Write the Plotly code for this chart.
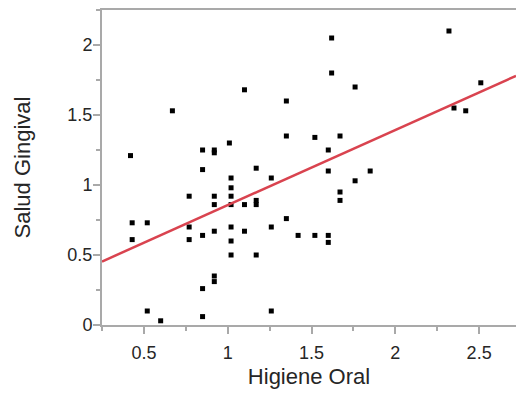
import plotly.graph_objects as go

# Data
higiene_oral = [0.42, 0.67, 0.85, 0.92, 0.92, 1.01, 0.85, 1.62, 1.62, 1.10,
                1.76, 1.35, 1.35, 1.52, 1.67, 1.60, 1.17, 1.60, 1.85, 2.32,
                2.51, 2.35, 2.42, 1.02, 1.02, 1.02, 1.02, 0.77, 0.92, 0.92,
                0.43, 0.52, 0.77, 0.43, 0.77, 0.85, 0.92, 1.02, 1.02, 1.02,
                0.92, 0.92, 0.85, 0.52, 0.60, 0.85, 1.10, 1.17, 1.17, 1.26,
                1.10, 1.26, 1.35, 1.42, 1.52, 1.60, 1.60, 1.17, 1.26, 1.67,
                1.67, 1.76]
salud_gingival = [1.21, 1.53, 1.25, 1.25, 1.23, 1.30, 1.11, 2.05, 1.80, 1.68,
                  1.70, 1.60, 1.35, 1.34, 1.35, 1.25, 1.12, 1.10, 1.10, 2.10,
                  1.73, 1.55, 1.53, 1.05, 0.98, 0.92, 0.86, 0.92, 0.92, 0.86,
                  0.73, 0.73, 0.70, 0.61, 0.61, 0.64, 0.67, 0.70, 0.60, 0.50,
                  0.35, 0.31, 0.26, 0.10, 0.03, 0.06, 0.86, 0.89, 0.86, 1.05,
                  0.67, 0.70, 0.76, 0.64, 0.64, 0.64, 0.59, 0.50, 0.10, 0.95,
                  0.89, 1.03]

# Fitted line
fit_intercept = 0.319
fit_slope = 0.537

x_range = [0.25, 2.72]
y_range = [0.0, 2.25]

fit_x = x_range
fit_y = [fit_intercept + fit_slope * v for v in fit_x]

FONT = "Liberation Sans, Arial, sans-serif"
AXIS_GRAY = "#a9a9a9"
TEXT = "#262626"

fig = go.Figure()
fig.add_trace(go.Scatter(
    x=higiene_oral, y=salud_gingival, mode="markers",
    marker=dict(symbol="square", size=5, color="black"),
    showlegend=False, hoverinfo="x+y",
))
fig.add_trace(go.Scatter(
    x=fit_x, y=fit_y, mode="lines",
    line=dict(color="#d9434f", width=2.5),
    showlegend=False, hoverinfo="skip",
))

axis_common = dict(
    automargin=True,
    showline=True, linecolor=AXIS_GRAY, linewidth=2,
    showgrid=False, zeroline=False,
    ticks="outside", ticklen=7, tickwidth=2, tickcolor=AXIS_GRAY,
    tickfont=dict(family=FONT, size=18, color=TEXT),
    tick0=0, dtick=0.5,
    minor=dict(ticks="outside", ticklen=4, tickwidth=2, tickcolor=AXIS_GRAY,
               dtick=0.25, tick0=0, showgrid=False),
)

fig.update_xaxes(
    range=x_range, mirror=True, ticklabelstandoff=3,
    title=dict(text="Higiene Oral", font=dict(family=FONT, size=22, color=TEXT), standoff=7),
    **axis_common,
)
fig.update_yaxes(
    range=y_range, ticklabelstandoff=-3,
    title=dict(text="Salud Gingival", font=dict(family=FONT, size=22, color=TEXT), standoff=31),
    **axis_common,
)

fig.update_layout(
    width=516, height=396,
    margin=dict(l=102, r=0, t=10, b=71),
    paper_bgcolor="white", plot_bgcolor="white",
    font=dict(family=FONT, color=TEXT),
)

fig.write_html(
    "out.html",
    config={"displayModeBar": False},
    post_script="document.body.style.margin='0';document.body.style.overflow='hidden';",
)
